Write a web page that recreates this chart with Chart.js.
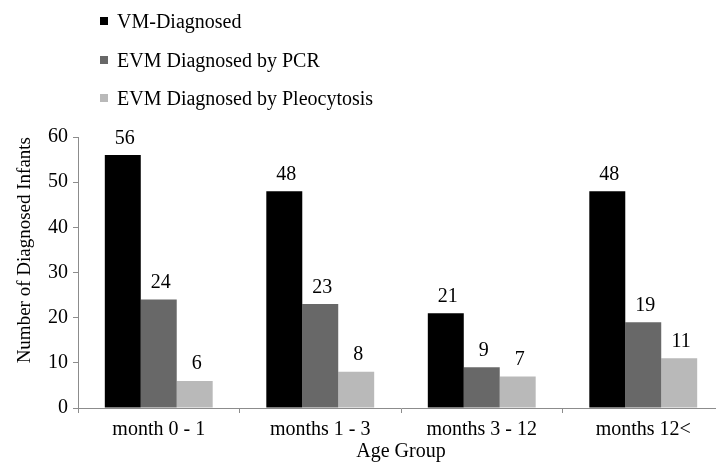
<!DOCTYPE html>
<html>
<head>
<meta charset="utf-8">
<script src="https://cdn.jsdelivr.net/npm/chart.js@4/dist/chart.umd.min.js"></script>
<style>
  html, body { margin: 0; padding: 0; background: #fff; overflow: hidden; }
  #wrap { position: relative; width: 730px; height: 465px; }
  #c { position: absolute; left: 0; top: 0; }
  .lg { position: absolute; left: 100px; height: 24px; line-height: 24px; white-space: nowrap; color: #000; }
  .lg span.sw { position: absolute; left: 0; top: 8px; width: 8px; height: 8px; }
  .lg span.tx { position: absolute; left: 17px; top: 0; }
</style>
</head>
<body>
<div id="wrap">
  <canvas id="c" width="730" height="465"></canvas>
</div>
<script>
// ---- data ----
const categories = ["month 0 - 1", "months 1 - 3", "months 3 - 12", "months 12<"];
const seriesNames = ["VM-Diagnosed", "EVM Diagnosed by PCR", "EVM Diagnosed by Pleocytosis"];
const vmDiagnosed = [56, 48, 21, 48];
const evmByPCR = [24, 23, 9, 19];
const evmByPleocytosis = [6, 8, 7, 11];
const yTicks = [0, 10, 20, 30, 40, 50, 60];
const yAxisTitle = "Number of Diagnosed Infants";
const xAxisTitle = "Age Group";

const colors = ["#000000", "#686868", "#b9b9b9"];
const FONT = "'Liberation Serif', 'Times New Roman', serif";

const valueLabels = {
  id: 'valueLabels',
  afterDatasetsDraw(chart) {
    const ctx = chart.ctx;
    ctx.save();
    ctx.font = '20px ' + FONT;
    ctx.fillStyle = '#000';
    ctx.textAlign = 'center';
    ctx.textBaseline = 'alphabetic';
    chart.data.datasets.forEach((ds, i) => {
      const meta = chart.getDatasetMeta(i);
      meta.data.forEach((bar, j) => {
        ctx.fillText(String(ds.data[j]), bar.x + 2, bar.y - 11.5);
      });
    });
    ctx.restore();
  }
};

const seriesData = [vmDiagnosed, evmByPCR, evmByPleocytosis];

const chart = new Chart(document.getElementById('c'), {
  type: 'bar',
  data: {
    labels: categories,
    datasets: seriesNames.map((n, i) => ({
      label: n,
      data: seriesData[i],
      backgroundColor: colors[i],
      borderWidth: 0,
      categoryPercentage: 0.668,
      barPercentage: 1.0
    }))
  },
  options: {
    responsive: false,
    animation: false,
    devicePixelRatio: 1,
    layout: { padding: { top: 137, right: 6, bottom: 0, left: 0 } },
    plugins: {
      legend: { display: false },
      tooltip: { enabled: false }
    },
    scales: {
      x: {
        offset: true,
        grid: { display: true, drawOnChartArea: false, drawTicks: true, tickLength: 5, offset: true, color: '#8c8c8c' },
        border: { display: true, color: '#8c8c8c', width: 1 },
        ticks: { color: '#000', font: { family: FONT, size: 20 }, padding: 5, maxRotation: 0, autoSkip: false },
        title: { display: true, text: xAxisTitle, color: '#000', font: { family: FONT, size: 20 }, padding: { top: 0, bottom: 1 } },
        afterFit(scale) { scale.height = 57; }
      },
      y: {
        min: 0, max: 60,
        afterBuildTicks(scale) { scale.ticks = yTicks.map(v => ({ value: v })); },
        grid: { display: true, drawOnChartArea: false, drawTicks: true, tickLength: 5, color: '#8c8c8c' },
        border: { display: true, color: '#8c8c8c', width: 1 },
        ticks: { color: '#000', font: { family: FONT, size: 20 }, padding: 5 },
        title: { display: true, text: yAxisTitle, color: '#000', align: 'end', font: { family: FONT, size: 19 }, padding: { top: 14, bottom: 0 } },
        afterFit(scale) { scale.width = 78; }
      }
    }
  },
  plugins: [valueLabels]
});

// HTML legend built from the datasets
const wrap = document.getElementById('wrap');
chart.data.datasets.forEach((ds, i) => {
  const row = document.createElement('div');
  row.className = 'lg';
  row.style.top = (9 + i * 38.5) + 'px';
  row.style.fontFamily = FONT;
  row.style.fontSize = '20px';
  const sw = document.createElement('span');
  sw.className = 'sw';
  sw.style.background = ds.backgroundColor;
  const tx = document.createElement('span');
  tx.className = 'tx';
  tx.style.fontFamily = FONT;
  tx.textContent = ds.label;
  row.appendChild(sw);
  row.appendChild(tx);
  wrap.appendChild(row);
});
</script>
</body>
</html>
